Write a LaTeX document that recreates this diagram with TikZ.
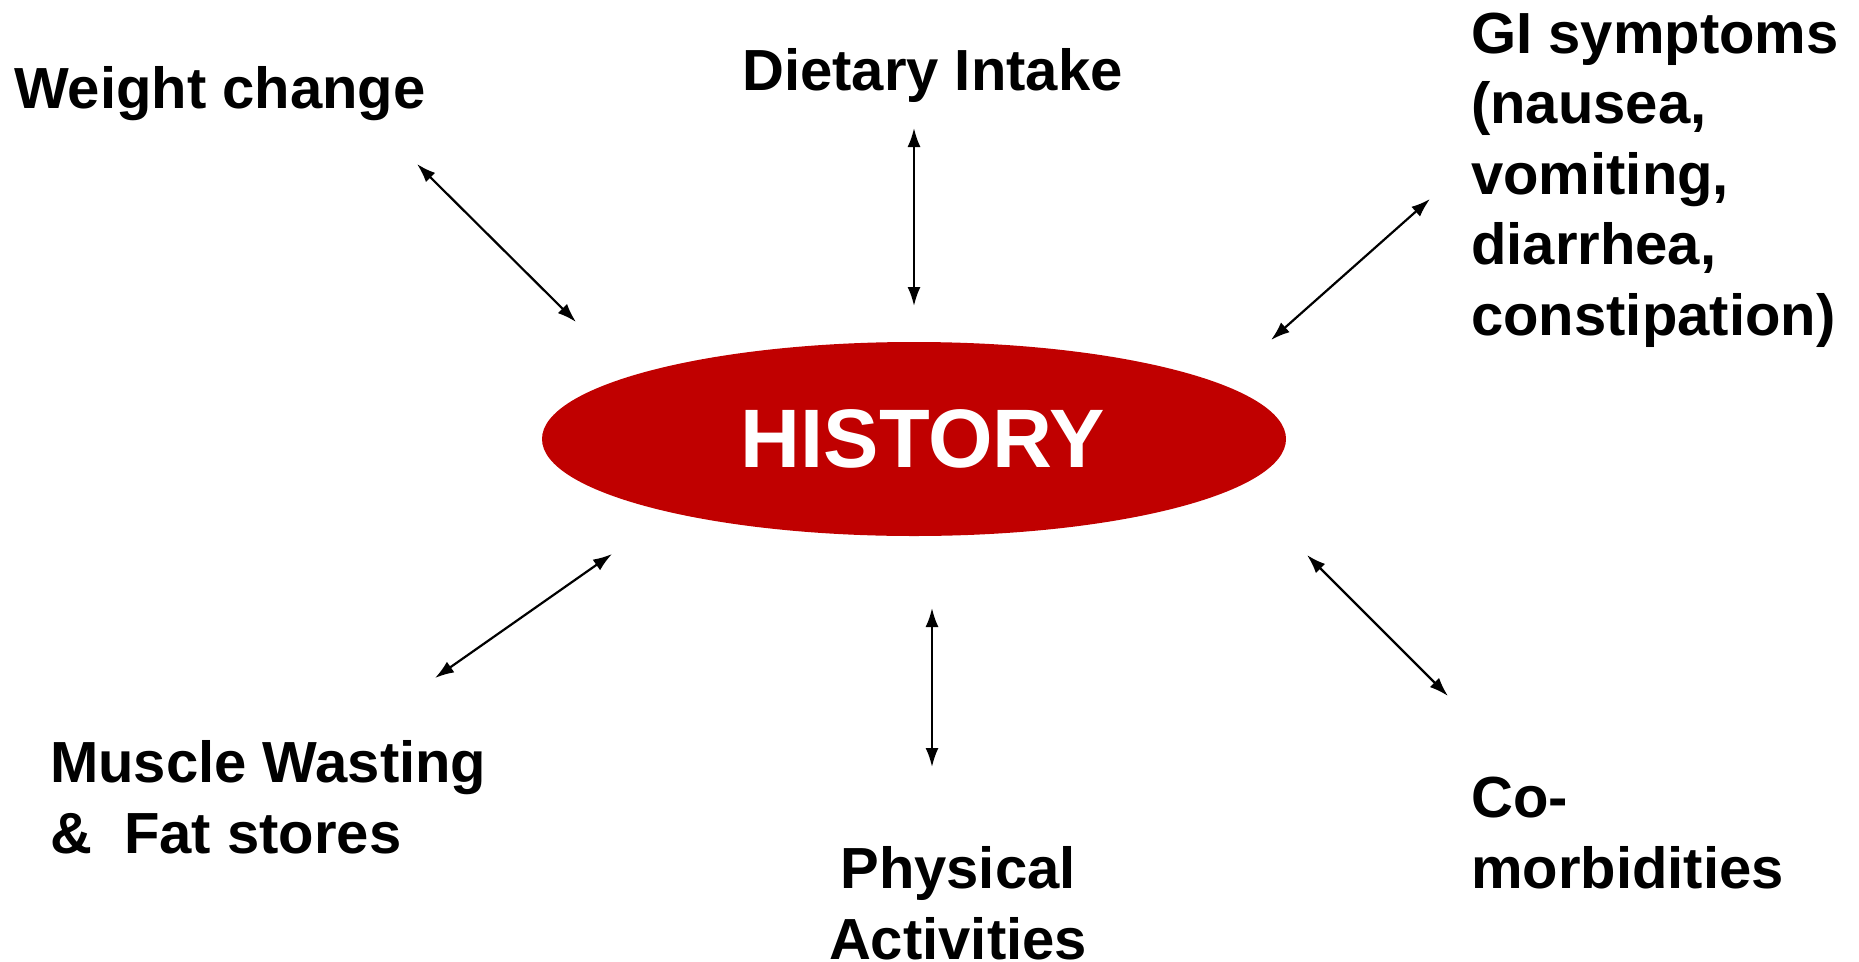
\documentclass[tikz,border=0pt]{standalone}
\usepackage{fontspec}
\setmainfont{Liberation Sans}
\usetikzlibrary{arrows.meta,shapes.geometric}
\definecolor{histred}{RGB}{192,0,0}
\tikzset{
  lbl/.style={anchor=base west, inner sep=0pt, align=left,
    font=\fontsize{58}{70.5}\selectfont\bfseries},
  link/.style={line width=2.2pt, {Latex[length=19pt,width=13pt]}-{Latex[length=19pt,width=13pt]}},
  hist/.style={ellipse, fill=histred, minimum width=744pt, minimum height=194pt,
    inner sep=0pt, text=white, font=\fontsize{83}{83}\selectfont\bfseries}
}
\begin{document}
\begin{tikzpicture}[x=1pt,y=-1pt]
\useasboundingbox (0,0) rectangle (1859,961);
\node[hist] (h) at (914,439) {\hspace*{18pt}HISTORY};
\node[lbl] (w) at (14,108) {Weight change};
\node[lbl] (d) at (742,90) {Dietary Intake};
\node[lbl] (gi) at (1471,335) {GI symptoms\\(nausea,\\vomiting,\\diarrhea,\\constipation)};
\node[lbl] (m) at (50,853) {Muscle Wasting\\\&\ \ Fat stores};
\node[lbl, align=center, anchor=base] (p) at (958,959) {Physical\\Activities};
\node[lbl] (c) at (1471,888) {Co-\\morbidities};
\coordinate (w1) at (417,164); \coordinate (w2) at (576,322);
\coordinate (d1) at (914,128); \coordinate (d2) at (914,306);
\coordinate (g1) at (1430,199); \coordinate (g2) at (1271,340);
\coordinate (m1) at (612,554); \coordinate (m2) at (435,678);
\coordinate (p1) at (932,608); \coordinate (p2) at (932,767);
\coordinate (c1) at (1307,555); \coordinate (c2) at (1448,696);
\draw[link] (w1) -- (w2);
\draw[link] (d1) -- (d2);
\draw[link] (g1) -- (g2);
\draw[link] (m1) -- (m2);
\draw[link] (p1) -- (p2);
\draw[link] (c1) -- (c2);
\end{tikzpicture}
\end{document}
